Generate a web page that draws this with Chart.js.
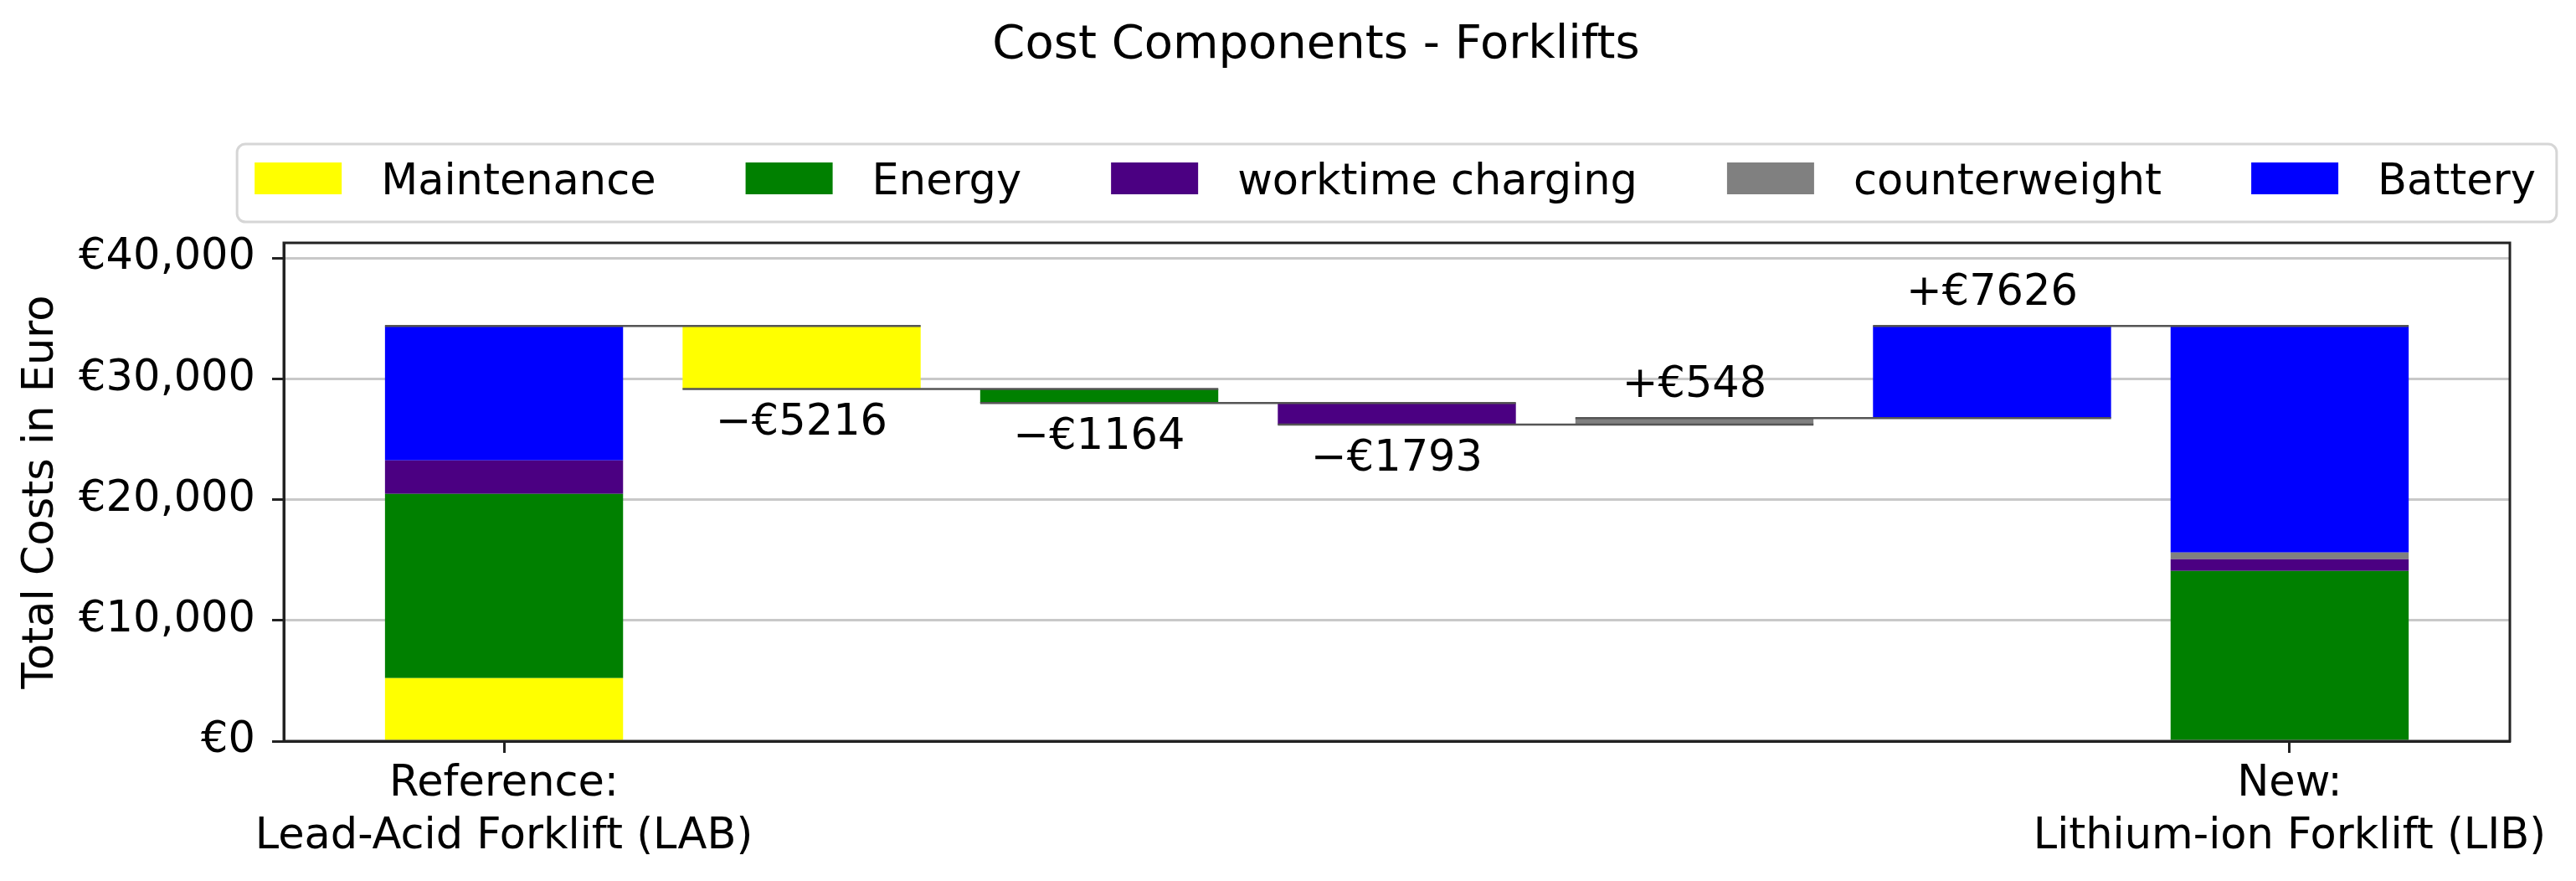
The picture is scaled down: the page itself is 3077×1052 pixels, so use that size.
<!DOCTYPE html>
<html>
<head>
<meta charset="utf-8">
<title>Cost Components - Forklifts</title>
<script src="https://cdn.jsdelivr.net/npm/chart.js@4.4.0/dist/chart.umd.min.js"></script>
<style>
    html, body { margin: 0; padding: 0; background: #fff; }
    #wrap { width: 3077px; height: 1052px; }
</style>
</head>
<body>
<div id="wrap"><canvas id="costChart" width="3077" height="1052"></canvas></div>
<script>
// ---- data ----
const chartTitle = "Cost Components - Forklifts";
const components = ["Maintenance", "Energy", "worktime charging", "counterweight", "Battery"];
const componentColors = ["#ffff00", "#008000", "#4b0082", "#808080", "#0000ff"];
const labCosts = [5216, 15260, 2760, 0, 11140];      // Reference: Lead-Acid forklift
const deltas = [-5216, -1164, -1793, 548, 7626];      // change per component
const xTickLabels = [["Reference:", "Lead-Acid Forklift (LAB)"], ["New:", "Lithium-ion Forklift (LIB)"]];
const yTickValues = [0, 10000, 20000, 30000, 40000];
const yAxisTitle = "Total Costs in Euro";

const libCosts = labCosts.map((v, i) => v + deltas[i]);
const newPos = components.length + 1;
const barPct = 0.8;
const FONT = "'DejaVu Sans', sans-serif";
const FS = 51;

function stackRanges(values) {
    let base = 0;
    return values.map(v => {
        const r = [base, base + v];
        base += v;
        return r;
    });
}

const labRanges = stackRanges(labCosts);
const libRanges = stackRanges(libCosts);
const labTotal = labCosts.reduce((a, b) => a + b, 0);

// running levels of the waterfall
const levels = [labTotal];
deltas.forEach(d => levels.push(levels[levels.length - 1] + d));

const barDatasets = components.map((name, i) => {
    const data = [];
    if (labCosts[i] !== 0) data.push({ x: 0, y: labRanges[i] });
    data.push({ x: i + 1, y: [levels[i], levels[i + 1]] });
    if (libCosts[i] !== 0) data.push({ x: newPos, y: libRanges[i] });
    return {
        type: "bar",
        label: name,
        data: data,
        backgroundColor: componentColors[i],
        borderWidth: 0,
        grouped: false,
        barPercentage: barPct,
        categoryPercentage: 1.0,
        order: 1
    };
});

// thin connectors: from left edge of one bar to right edge of the next
const connectorData = [];
for (let k = 0; k <= components.length; k++) {
    connectorData.push({ x: k - barPct / 2, y: levels[k] });
    connectorData.push({ x: k + 1 + barPct / 2, y: levels[k] });
    connectorData.push({ x: k + 1 + barPct / 2, y: null });
}

const connectorDataset = {
    type: "line",
    label: "connector",
    data: connectorData,
    borderColor: "#555555",
    borderWidth: 2.5,
    pointRadius: 0,
    spanGaps: false,
    fill: false,
    order: 0
};

function euro(v) {
    return "€" + Math.round(v).toLocaleString("en-US");
}

// delta labels above / below the waterfall steps
const deltaLabels = {
    id: "deltaLabels",
    afterDatasetsDraw(chart) {
        const ctx = chart.ctx;
        ctx.save();
        ctx.font = FS + "px " + FONT;
        ctx.fillStyle = "#000";
        ctx.textAlign = "center";
        ctx.textBaseline = "alphabetic";
        deltas.forEach((d, i) => {
            const meta = chart.getDatasetMeta(i);
            const idx = chart.data.datasets[i].data.findIndex(p => p.x === i + 1);
            const bar = meta.data[idx];
            if (!bar) return;
            const top = Math.min(bar.y, bar.base);
            const bottom = Math.max(bar.y, bar.base);
            const text = (d < 0 ? "\u2212€" : "+€") + Math.abs(d);
            if (d < 0) ctx.fillText(text, bar.x, bottom + 55);
            else ctx.fillText(text, bar.x, top - 25);
        });
        ctx.restore();
    }
};

// full box around the axes (matplotlib spines)
const frame = {
    id: "frame",
    afterDatasetsDraw(chart) {
        const a = chart.chartArea;
        const ctx = chart.ctx;
        ctx.save();
        ctx.strokeStyle = "#222";
        ctx.lineWidth = 3;
        ctx.strokeRect(a.left, a.top, a.right - a.left, a.bottom - a.top);
        ctx.restore();
    }
};

// title and framed legend
const header = {
    id: "header",
    afterDraw(chart) {
        const ctx = chart.ctx;
        const a = chart.chartArea;
        ctx.save();
        ctx.fillStyle = "#000";
        ctx.font = "56px " + FONT;
        ctx.textAlign = "center";
        ctx.textBaseline = "alphabetic";
        ctx.fillText(chartTitle, 1572, 69);

        ctx.font = FS + "px " + FONT;
        const boxW = 104, boxH = 38, gap = 47, spacing = 107, padL = 21, padR = 25;
        const widths = components.map(t => boxW + gap + ctx.measureText(t).width);
        const inner = widths.reduce((s, w) => s + w, 0) + spacing * (widths.length - 1);
        const cx = (a.left + a.right) / 2;
        const frameW = inner + padL + padR;
        const frameL = cx - frameW / 2;
        const frameT = 172, frameH = 93;

        ctx.strokeStyle = "#d6d6d6";
        ctx.lineWidth = 3;
        ctx.beginPath();
        ctx.roundRect(frameL, frameT, frameW, frameH, 10);
        ctx.stroke();

        let x = frameL + padL;
        const boxTop = 194;
        ctx.textAlign = "left";
        components.forEach((name, i) => {
            ctx.fillStyle = componentColors[i];
            ctx.fillRect(x, boxTop, boxW, boxH);
            ctx.fillStyle = "#000";
            ctx.fillText(name, x + boxW + gap, boxTop + boxH);
            x += widths[i] + spacing;
        });
        ctx.restore();
    }
};

Chart.defaults.font.family = FONT;
Chart.defaults.font.size = FS;
Chart.defaults.color = "#000";

const ctx = document.getElementById("costChart");

new Chart(ctx, {
    type: "bar",
    data: {
        datasets: [...barDatasets, connectorDataset]
    },
    options: {
        responsive: false,
        devicePixelRatio: 1,
        animation: false,
        layout: {
            padding: { top: 290, right: 79, left: 0, bottom: 0 }
        },
        plugins: {
            legend: { display: false },
            title: { display: false },
            tooltip: { enabled: false }
        },
        scales: {
            x: {
                type: "linear",
                min: -0.74,
                max: newPos + 0.74,
                offset: false,
                afterBuildTicks: scale => {
                    scale.ticks = [{ value: 0 }, { value: newPos }];
                },
                afterFit: scale => { scale.height = 167; },
                ticks: {
                    autoSkip: false,
                    maxRotation: 0,
                    padding: 6,
                    font: { size: FS, lineHeight: 1.24 },
                    callback: value => (value === 0 ? xTickLabels[0] : xTickLabels[1])
                },
                grid: {
                    offset: false,
                    color: "rgba(0,0,0,0)",
                    tickColor: "#222",
                    tickLength: 14,
                    tickWidth: 3
                },
                border: { color: "#222", width: 3 }
            },
            y: {
                type: "linear",
                min: 0,
                max: 41250,
                afterBuildTicks: scale => {
                    scale.ticks = yTickValues.map(v => ({ value: v }));
                },
                afterFit: scale => { scale.width = 339; },
                ticks: {
                    padding: 20,
                    font: { size: FS },
                    callback: value => euro(value)
                },
                grid: {
                    color: "#c8c8c8",
                    lineWidth: 3,
                    tickColor: "#222",
                    tickLength: 14,
                    tickWidth: 3
                },
                border: { color: "#222", width: 3 },
                title: {
                    display: true,
                    text: yAxisTitle,
                    font: { size: FS },
                    padding: { top: 19, bottom: 0 }
                }
            }
        }
    },
    plugins: [deltaLabels, frame, header]
});
</script>
</body>
</html>
